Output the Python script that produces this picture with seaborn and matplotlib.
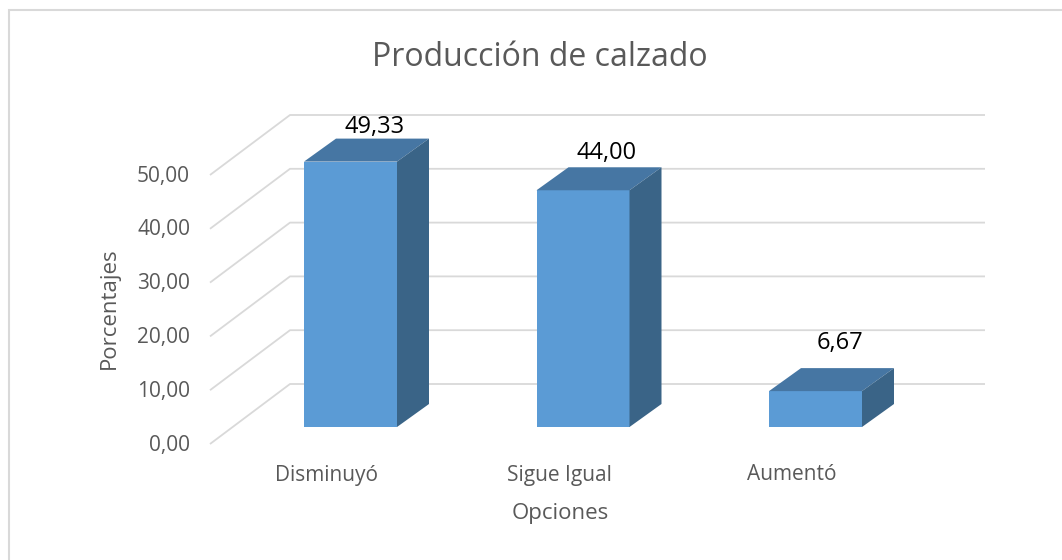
import matplotlib
matplotlib.use("Agg")
import matplotlib.pyplot as plt
import matplotlib.transforms as mtransforms
from matplotlib.patches import Polygon, Rectangle
import seaborn as sns

# data
categories = ["Disminuyó", "Sigue Igual", "Aumentó"]
values = [49.33, 44.00, 6.67]
y_ticks = [0, 10, 20, 30, 40, 50]
title = "Producción de calzado"
x_title = "Opciones"
y_title = "Porcentajes"

sns.set_style("white")
plt.rcParams["font.family"] = ["Open Sans", "DejaVu Sans"]

FRONT = "#5B9BD5"
TOP = "#4676A3"
SIDE = "#3A6487"
GRID = "#D9D9D9"
TEXT = "#595959"

fig = plt.figure(figsize=(10.62, 5.6), dpi=100)
ax = fig.add_axes([0, 0, 1, 1])

sns.barplot(x=categories, y=values, width=0.4, color=FRONT, saturation=1,
            linewidth=0, ax=ax, zorder=3)

# pixel scale of the drawing area (bar plane)
px_x, x0_px = 232.5, 350.5
px_y, base_px = 5.38, 560 - 427
ax.set_xlim(-x0_px / px_x, (1062 - x0_px) / px_x)
ax.set_ylim(-base_px / px_y, (560 - base_px) / px_y)
ax.axis("off")


def shift(x, y, dx, dy):
    # move a data point by a pixel offset and return data coords
    d = ax.transData.transform((x, y))
    return ax.transData.inverted().transform((d[0] + dx, d[1] + dy))


# walls: front edge (-22, -17), back wall (+58, +43) relative to bar plane
c_left = (232 - x0_px) / px_x
c_right = (985 - 58 - x0_px) / px_x
for v in y_ticks:
    f = shift(c_left, v, -22, -17)
    b = shift(c_left, v, 58, 43)
    r = shift(c_right, v, 58, 43)
    ax.plot([f[0], b[0], r[0]], [f[1], b[1], r[1]], color=GRID, lw=1.3,
            zorder=1, solid_capstyle="butt")
    ax.text(f[0], f[1], f"{v:.2f}".replace(".", ","), ha="right", va="center",
            fontsize=15, color=TEXT,
            transform=mtransforms.offset_copy(ax.transData, fig, x=-20, y=-1,
                                              units="dots"))

# 3D faces of each bar
DX, DY = 32, 23
label_lift = [12, 14, 25]
for i, bar in enumerate(ax.patches[:len(values)]):
    x0, w, h = bar.get_x(), bar.get_width(), bar.get_height()
    x1 = x0 + w
    top = [(x0, h), (x1, h), tuple(shift(x1, h, DX, DY)), tuple(shift(x0, h, DX, DY))]
    side = [(x1, 0), (x1, h), tuple(shift(x1, h, DX, DY)), tuple(shift(x1, 0, DX, DY))]
    ax.add_patch(Polygon(top, closed=True, facecolor=TOP, edgecolor="none", zorder=3))
    ax.add_patch(Polygon(side, closed=True, facecolor=SIDE, edgecolor="none", zorder=3))
    cx = x0 + w / 2
    ax.text(cx, h, f"{values[i]:.2f}".replace(".", ","), ha="center", va="center",
            fontsize=17, color="black", zorder=4,
            transform=mtransforms.offset_copy(ax.transData, fig, x=24,
                                              y=DY + label_lift[i], units="dots"))
    ax.text(cx, 0, categories[i], ha="center", va="center", fontsize=15, color=TEXT,
            transform=mtransforms.offset_copy(ax.transData, fig, x=-24, y=-48,
                                              units="dots"))

fig.text(540 / 1062, 1 - 57 / 560, title, ha="center", va="center",
         fontsize=23, color=TEXT)
fig.text(560 / 1062, 1 - 514 / 560, x_title, ha="center", va="center",
         fontsize=16, color=TEXT)
fig.text(109 / 1062, 1 - 308 / 560, y_title, ha="center", va="center",
         fontsize=16, color=TEXT, rotation=90)

# chart frame
fig.patches.append(Rectangle((9 / 1062, -0.1), 1.2, 1 - 10 / 560 + 0.1,
                             transform=fig.transFigure, fill=False,
                             edgecolor=GRID, lw=1.5))

fig.savefig("out.png", dpi=100)
